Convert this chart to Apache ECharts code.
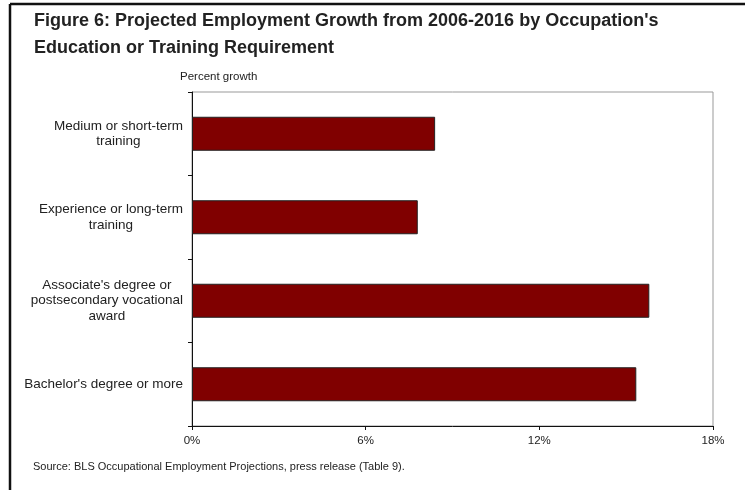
<!DOCTYPE html>
<html>
<head>
<meta charset="utf-8">
<script src="https://cdn.jsdelivr.net/npm/echarts@6/dist/echarts.min.js"></script>
<style>
html,body{margin:0;padding:0;background:#fff;}
#chart{width:745px;height:490px;}
</style>
</head>
<body>
<div id="chart"></div>
<script>
var categories = [
  ["Medium or short-term", "training"],
  ["Experience or long-term", "training"],
  ["Associate's degree or", "postsecondary vocational", "award"],
  ["Bachelor's degree or more"]
];
var growthValues = [8.4, 7.8, 15.8, 15.35];
var tickLabels = ["0%", "6%", "12%", "18%"];

var titleText = "Figure 6: Projected Employment Growth from 2006-2016 by Occupation's\nEducation or Training Requirement";
var axisName = "Percent growth";
var sourceText = "Source: BLS Occupational Employment Projections, press release (Table 9).";

var FONT = "Liberation Sans, Arial, sans-serif";
var catNames = categories.map(function (c) { return c.join("\n"); });

var chart = echarts.init(document.getElementById('chart'));
chart.setOption({
  animation: false,
  backgroundColor: '#fff',
  title: {
    text: titleText,
    left: 29, top: 3,
    textStyle: { fontFamily: FONT, fontSize: 18, fontWeight: 'bold', color: '#222', lineHeight: 27 }
  },
  graphic: [
    { type: 'line', shape: { x1: 10, y1: 4, x2: 745, y2: 4 }, style: { stroke: '#111', lineWidth: 2.5 } },
    { type: 'line', shape: { x1: 10, y1: 4, x2: 10, y2: 490 }, style: { stroke: '#111', lineWidth: 2.5 } },
    { type: 'text', left: 180, top: 71, style: { text: axisName, fontFamily: FONT, fontSize: 11.5, fill: '#222' } },
    { type: 'text', left: 33, top: 461, style: { text: sourceText, fontFamily: FONT, fontSize: 11, fill: '#222' } }
  ],
  grid: { left: 192, right: 32, top: 92, bottom: 64, show: true, borderColor: '#999', borderWidth: 1 },
  xAxis: {
    type: 'value', min: 0, max: 18, interval: 6,
    axisLine: { show: true, lineStyle: { color: '#111', width: 1 } },
    axisTick: { show: true, length: 4, lineStyle: { color: '#111' } },
    splitLine: { show: false },
    axisLabel: {
      margin: 9, fontFamily: FONT, fontSize: 11.5, color: '#222',
      formatter: function (v) { return tickLabels[Math.round(v / 6)]; }
    }
  },
  yAxis: {
    type: 'category', inverse: true, data: catNames,
    axisLine: { show: true, lineStyle: { color: '#111', width: 1 } },
    axisTick: { show: true, length: 4, lineStyle: { color: '#111' } },
    axisLabel: {
      margin: 9, align: 'right', fontFamily: FONT, fontSize: 13.5, color: '#222', lineHeight: 15.5,
      formatter: function (v) {
        return v.split("\n").map(function (l) { return '{c|' + l + '}'; }).join("\n");
      },
      rich: { c: { align: 'center', fontFamily: FONT, fontSize: 13.5, color: '#222', lineHeight: 15.5 } }
    }
  },
  series: [{
    type: 'bar', data: growthValues, barWidth: 34,
    itemStyle: { color: '#800000', borderColor: '#222', borderWidth: 1 }
  }]
});
</script>
</body>
</html>
